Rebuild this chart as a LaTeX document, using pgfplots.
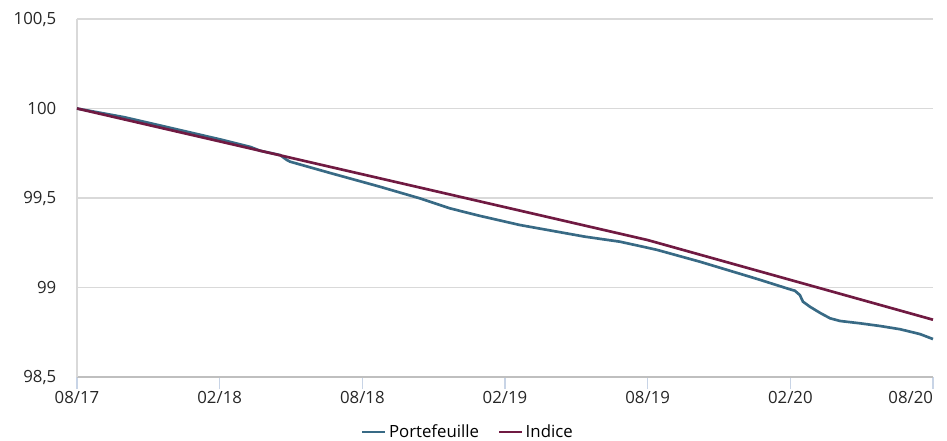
\documentclass[border=0pt]{standalone}
\usepackage{fontspec}
\setmainfont{Open Sans}
\usepackage{pgfplots}
\pgfplotsset{compat=1.18}
\definecolor{teal1}{RGB}{56,106,133}
\definecolor{maroon1}{RGB}{112,26,66}
\definecolor{gridc}{RGB}{217,217,217}
\definecolor{tickc}{RGB}{200,212,230}
\begin{document}
\begin{tikzpicture}
\useasboundingbox (-57.75pt,-47.25pt) rectangle (652.5pt,282.75pt);
\begin{axis}[
  at={(0,0)}, anchor=south west,
  scale only axis,
  width=642pt, height=268.5pt,
  xmin=0, xmax=36, ymin=98.5, ymax=100.5,
  axis x line=bottom, axis y line=left,
  axis line style={-, draw=gridc, line width=0.9pt},
  x axis line style={draw=black!25, line width=0.9pt},
  xtick={0,6,12,18,24,30,36},
  xticklabels={08/17,02/18,08/18,02/19,08/19,02/20,\makebox[0pt][r]{08/20}},
  ytick={98.5,99,99.5,100,100.5},
  yticklabels={{98,5},99,{99,5},100,{100,5}},
  ymajorgrids, grid style={gridc, line width=0.9pt},
  tick align=outside,
  xtick style={draw=tickc, line width=0.9pt},
  major tick length=9pt,
  ytick style={draw=none},
  tick label style={font=\fontsize{12.6}{14}\selectfont, text=black!85},
  yticklabel style={xshift=-3pt},
  xticklabel style={yshift=2pt},
  /pgf/number format/assume math mode=true,
  clip=false,
  legend columns=2,
  legend style={draw=none, fill=none, at={(0.457,-0.154)}, anchor=center,
    font=\fontsize{12.6}{14}\selectfont,
    /tikz/every even column/.append style={column sep=12pt}},
  legend image code/.code={\draw[#1] (0pt,0pt) -- (17pt,0pt);},
]
\addplot[teal1, line width=2pt] coordinates {
(0,100) (2,99.951) (3.5,99.905) (6,99.828) (7.3,99.785) (7.7,99.764) (8.54,99.740) (8.83,99.712)
(8.96,99.703) (10.64,99.64) (12.74,99.563) (14.42,99.498) (15.69,99.442)
(16.95,99.40) (18.63,99.349) (21.36,99.284) (22.83,99.256) (24.0,99.222)
(24.4,99.21) (26.2,99.144) (28.3,99.06) (28.72,99.043) (29.98,98.99) (30.19,98.982)
(30.40,98.958) (30.53,98.921) (30.82,98.893) (31.24,98.859) (31.67,98.828)
(32.09,98.813) (32.93,98.80) (33.77,98.785) (34.61,98.767) (35.45,98.74)
(36,98.712)
};
\addlegendentry{Portefeuille}
\addplot[maroon1, line width=2pt] coordinates {
(0,100) (24,99.265) (36,98.82)
};
\addlegendentry{Indice}
\end{axis}
\end{tikzpicture}
\end{document}
